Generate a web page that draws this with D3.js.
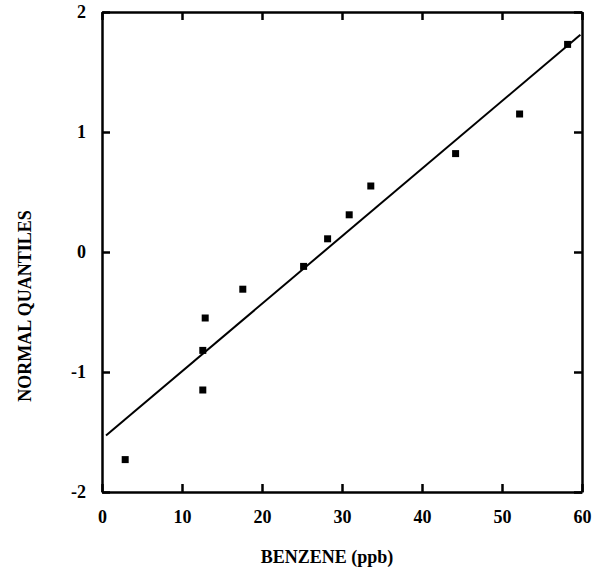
<!DOCTYPE html>
<html>
<head>
<meta charset="utf-8">
<script src="https://cdn.jsdelivr.net/npm/d3@7"></script>
<style>
  body { margin: 0; background: #fff; }
  text { font-family: "Liberation Serif", "Times New Roman", serif; font-weight: 700; }
</style>
</head>
<body>
<div id="chart"></div>
<script>
// benzene concentrations (ppb) and their normal quantiles
const benzene = [2.9, 12.6, 12.6, 12.9, 17.6, 25.2, 28.2, 30.9, 33.6, 44.2, 52.2, 58.2];
const quantiles = [-1.73, -1.15, -0.82, -0.55, -0.31, -0.12, 0.11, 0.31, 0.55, 0.82, 1.15, 1.73];

// fitted reference line end points
const fitX = [0.5, 59.8];
const fitY = [-1.53, 1.81];

const xTicks = [0, 10, 20, 30, 40, 50, 60];
const yTicks = [-2, -1, 0, 1, 2];

const W = 594, H = 573;
const margin = { left: 102, right: 12, top: 12, bottom: 81 };
const width = W - margin.left - margin.right;
const height = H - margin.top - margin.bottom;

const svg = d3.select('#chart').append('svg')
  .attr('width', W)
  .attr('height', H);

const g = svg.append('g')
  .attr('transform', `translate(${margin.left},${margin.top})`);

const x = d3.scaleLinear().domain([0, 60]).range([0, width]);
const y = d3.scaleLinear().domain([-2, 2]).range([height, 0]);

const fmt = (d) => String(d);

// axes, ticks pointing inward
const axBottom = g.append('g')
  .attr('transform', `translate(0,${height})`)
  .call(d3.axisBottom(x).tickValues(xTicks).tickSizeInner(-8).tickSizeOuter(0).tickPadding(18).tickFormat(fmt));
const axTop = g.append('g')
  .call(d3.axisTop(x).tickValues(xTicks).tickSizeInner(-8).tickSizeOuter(0).tickFormat(''));
const axLeft = g.append('g')
  .call(d3.axisLeft(y).tickValues(yTicks).tickSizeInner(-8).tickSizeOuter(0).tickPadding(16).tickFormat(fmt));
const axRight = g.append('g')
  .attr('transform', `translate(${width},0)`)
  .call(d3.axisRight(y).tickValues(yTicks).tickSizeInner(-8).tickSizeOuter(0).tickFormat(''));

[axBottom, axTop, axLeft, axRight].forEach((a) => {
  a.attr('font-size', null).attr('font-family', null);
  a.selectAll('path').attr('stroke', '#000').attr('stroke-width', 2.5);
  a.selectAll('line').attr('stroke', '#000').attr('stroke-width', 2.5);
  a.selectAll('text')
    .attr('fill', '#000')
    .style('font-size', '18px')
    .style('font-weight', '700');
});

// fitted line
const line = d3.line()
  .x((d) => x(d[0]))
  .y((d) => y(d[1]));

g.append('path')
  .datum(fitX.map((v, i) => [v, fitY[i]]))
  .attr('d', line)
  .attr('fill', 'none')
  .attr('stroke', '#000')
  .attr('stroke-width', 2);

// points
g.selectAll('rect.pt')
  .data(benzene)
  .join('rect')
  .attr('class', 'pt')
  .attr('x', (d) => x(d) - 3.5)
  .attr('y', (d, i) => y(quantiles[i]) - 3.5)
  .attr('width', 7)
  .attr('height', 7)
  .attr('fill', '#000');

// axis labels
svg.append('text')
  .attr('x', 327)
  .attr('y', 563)
  .attr('text-anchor', 'middle')
  .style('font-size', '18px')
  .text('BENZENE (ppb)');

svg.append('text')
  .attr('transform', 'translate(31,306) rotate(-90)')
  .attr('text-anchor', 'middle')
  .style('font-size', '18px')
  .text('NORMAL QUANTILES');
</script>
</body>
</html>
